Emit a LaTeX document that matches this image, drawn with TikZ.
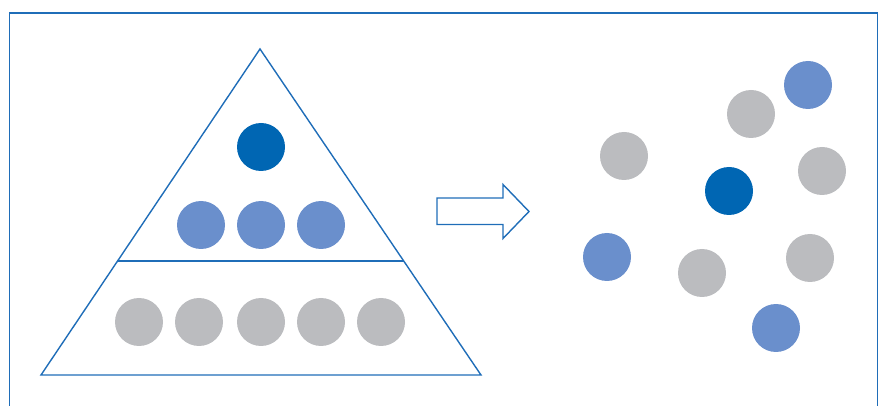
\documentclass[tikz,border=0pt]{standalone}
\usetikzlibrary{shapes.arrows}
\definecolor{lineblue}{HTML}{1F6DB8}
\definecolor{darkblue}{HTML}{0066B3}
\definecolor{midblue}{HTML}{6A8FCC}
\definecolor{lgray}{HTML}{BBBCBF}
\tikzset{
  dot/.style={circle, minimum size=48pt, inner sep=0pt, draw=none},
  dk/.style={dot, fill=darkblue},
  md/.style={dot, fill=midblue},
  gr/.style={dot, fill=lgray},
  outl/.style={draw=lineblue, line width=1.4pt, line join=miter}
}
\begin{document}
\begin{tikzpicture}[x=1pt,y=-1pt]
\useasboundingbox (0,0) rectangle (879,406);
% frame (open at bottom)
\draw[outl] (9.5,406) -- (9.5,13) -- (877.5,13) -- (877.5,406);
% pyramid
\draw[outl] (260,49) -- (481,375) -- (41,375) -- cycle;
\draw[outl] (117.6,261) -- (403.6,261);
% circles in pyramid
\node[dk] (p1) at (261,147) {};
\node[md] (p2) at (201,225) {};
\node[md] (p3) at (261,225) {};
\node[md] (p4) at (321,225) {};
\node[gr] (p5) at (139,322) {};
\node[gr] (p6) at (199,322) {};
\node[gr] (p7) at (261,322) {};
\node[gr] (p8) at (321,322) {};
\node[gr] (p9) at (381,322) {};
% arrow
\draw[outl] (437,198) -- (503,198) -- (503,184.5) -- (529,211.5) -- (503,238.5) -- (503,224.5) -- (437,224.5) -- cycle;
% scattered circles
\node[gr] (s1) at (624,156) {};
\node[gr] (s2) at (751,114) {};
\node[md] (s3) at (808,85) {};
\node[dk] (s4) at (729,191) {};
\node[gr] (s5) at (822,171) {};
\node[md] (s6) at (607,257) {};
\node[gr] (s7) at (702,273) {};
\node[gr] (s8) at (810,258) {};
\node[md] (s9) at (776,328) {};
\end{tikzpicture}
\end{document}
